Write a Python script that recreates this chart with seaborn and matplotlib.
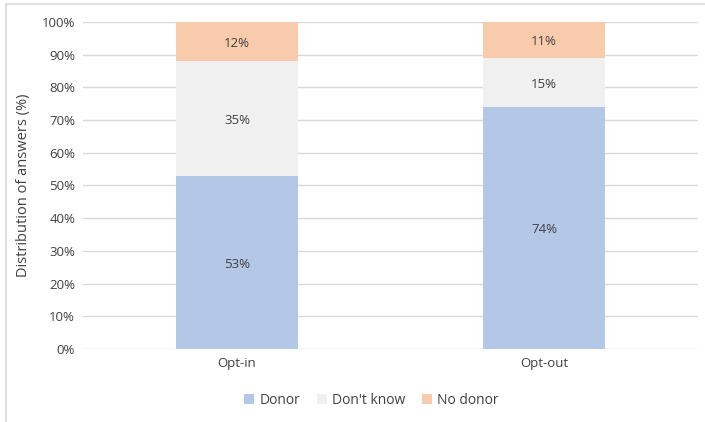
import matplotlib
matplotlib.use("Agg")
import matplotlib.pyplot as plt
import seaborn as sns
import pandas as pd
from matplotlib.lines import Line2D
from matplotlib.patches import Patch
from matplotlib.ticker import PercentFormatter

categories = ["Opt-in", "Opt-out"]
series_names = ["Donor", "Don't know", "No donor"]
donor = [53, 74]
dont_know = [35, 15]
no_donor = [12, 11]
colors = ["#B4C7E7", "#F0F0F0", "#F8CBAD"]

sns.set_theme(style="white")
plt.rcParams["font.family"] = ["Open Sans", "DejaVu Sans"]

df = pd.DataFrame({"category": categories, "Donor": donor,
                   "Don't know": dont_know, "No donor": no_donor})

fig = plt.figure(figsize=(7.05, 4.22), dpi=100)
ax = fig.add_axes([0.1184, 0.173, 0.871, 0.775])

grid_c = "#D9D9D9"
for y in range(0, 101, 10):
    ax.axhline(y, color=grid_c, lw=1.0, zorder=0)

# cumulative heights, drawn as overlapping bars
bottom = [0, 0]
for name, col in zip(series_names, colors):
    vals = df[name].tolist()
    sns.barplot(x=df["category"], y=[b + v for b, v in zip(bottom, vals)],
                color=col, width=0.4, ax=ax, saturation=1)
    bottom = [b + v for b, v in zip(bottom, vals)]

# lower segments sit above the taller cumulative bars
n = len(categories)
for i, p in enumerate(ax.patches):
    grp = i // n
    p.set_zorder(3 + (len(series_names) - grp))
    p.set_edgecolor("none")

# segment labels
bottom = [0, 0]
for name in series_names:
    vals = df[name].tolist()
    for i, v in enumerate(vals):
        ax.text(i, bottom[i] + v / 2 - 0.6, f"{v}%", ha="center", va="center",
                fontsize=9.5, color="#404040", zorder=10)
    bottom = [b + v for b, v in zip(bottom, vals)]

ax.set_ylim(0, 100)
ax.set_xlim(-0.5, 1.5)
ax.set_yticks(range(0, 101, 10))
ax.yaxis.set_major_formatter(PercentFormatter(decimals=0))
ax.tick_params(axis="both", length=0, labelsize=9.5, labelcolor="#404040", pad=6)
ax.set_xlabel("")
ax.set_ylabel("Distribution of answers (%)", fontsize=10.5, color="#404040", labelpad=8)
for s in ax.spines.values():
    s.set_visible(False)

handles = [Patch(facecolor=c, edgecolor="none") for c in colors]
fig.legend(handles, series_names, loc="center", bbox_to_anchor=(0.527, 0.052),
           ncol=3, frameon=False, fontsize=10, handlelength=0.7, handleheight=0.7,
           handletextpad=0.4, columnspacing=1.2, labelcolor="#404040")

# outer frame lines
fig.add_artist(Line2D([0.0085, 0.0085], [0, 0.991], transform=fig.transFigure,
                      color="#D9D9D9", lw=1.2))
fig.add_artist(Line2D([0.0085, 1], [0.991, 0.991], transform=fig.transFigure,
                      color="#D9D9D9", lw=1.2))

fig.savefig("out.png", dpi=100)
